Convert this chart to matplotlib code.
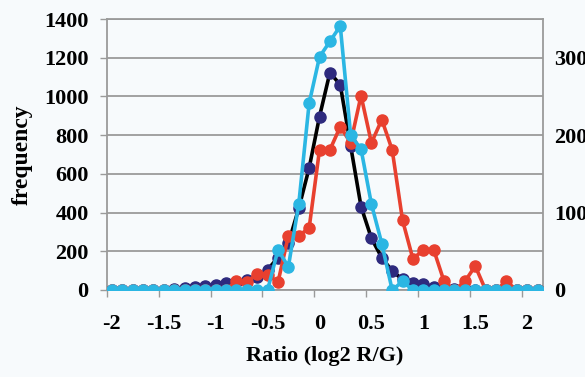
import numpy as np
import matplotlib
matplotlib.use("Agg")
import matplotlib.pyplot as plt

# Category positions (log2 R/G ratio), one every 0.1
ratio = [-2.0, -1.9, -1.8, -1.7, -1.6, -1.5, -1.4, -1.3, -1.2, -1.1,
         -1.0, -0.9, -0.8, -0.7, -0.6, -0.5, -0.4, -0.3, -0.2, -0.1,
         0.0, 0.1, 0.2, 0.3, 0.4, 0.5, 0.6, 0.7, 0.8, 0.9,
         1.0, 1.1, 1.2, 1.3, 1.4, 1.5, 1.6, 1.7, 1.8, 1.9,
         2.0, 2.1]

# Primary axis series (frequency)
navy_series = [0, 0, 0, 0, 0, 2, 5, 12, 17, 22,
               28, 34, 42, 50, 68, 105, 167, 241, 422, 630,
               896, 1123, 1060, 744, 431, 267, 167, 98, 55, 38,
               31, 17, 9, 5, 3, 2, 0, 0, 0, 0,
               0, 0]

# Secondary axis series
red_series = [0, 0, 0, 0, 0, 0, 0, 0, 0, 0,
              0, 0, 12, 10, 21, 20, 10, 70, 70, 80,
              181, 181, 211, 190, 251, 190, 220, 181, 90, 40,
              52, 52, 11, 0, 11, 31, 0, 0, 11, 0,
              0, 0]
cyan_series = [0, 0, 0, 0, 0, 0, 0, 0, 0, 0,
               0, 0, 0, 0, 0, 0, 52, 30, 111, 241,
               301, 321, 341, 200, 182, 111, 60, 0, 11, 0,
               0, 0, 0, 0, 0, 0, 0, 0, 0, 0,
               0, 0]

x_tick_values = [-2, -1.5, -1, -0.5, 0, 0.5, 1, 1.5, 2]
x_tick_labels = ["-2", "-1.5", "-1", "-0.5", "0", "0.5", "1", "1.5", "2"]
left_ticks = [0, 200, 400, 600, 800, 1000, 1200, 1400]
right_ticks = [0, 100, 200, 300]

BG = "#f7fafc"
GRID = "#9a9a9a"
NAVY = "#2e2a7e"
RED = "#e8402f"
CYAN = "#2bb6e3"
FONT = "Liberation Serif"

fig = plt.figure(figsize=(5.85, 3.77), dpi=100, facecolor=BG)
ax = fig.add_axes([0.1824, 0.2308, 0.9277 - 0.1824, 0.9496 - 0.2308])
ax.set_facecolor(BG)

ax.set_xlim(-2.05, 2.15)
ax.set_ylim(0, 1400)
ax.set_yticks(left_ticks)
ax.set_yticklabels([str(v) for v in left_ticks], fontfamily=FONT,
                   fontweight="bold", fontsize=16)
ax.yaxis.grid(True, color=GRID, linewidth=1.3)
ax.set_axisbelow(True)
ax.tick_params(axis="y", direction="out", length=5, width=1, color=GRID, pad=8)

ax.set_xticks(x_tick_values)
ax.set_xticklabels(x_tick_labels, fontfamily=FONT, fontweight="bold", fontsize=16)
ax.set_xticks([-2.05 + 0.5 * k for k in range(9)], minor=True)
ax.tick_params(axis="x", which="major", length=0, pad=17)
ax.tick_params(axis="x", which="minor", direction="out", length=5, width=1, color=GRID)

for s in ax.spines.values():
    s.set_color(GRID)
    s.set_linewidth(1.3)

ax.plot(ratio, navy_series, color="black", linewidth=2.6, marker="o",
        markersize=8, markerfacecolor=NAVY, markeredgecolor=NAVY, zorder=3)

ax2 = ax.twinx()
ax2.set_ylim(0, 350)
ax2.set_yticks(right_ticks)
ax2.set_yticklabels([str(v) for v in right_ticks], fontfamily=FONT,
                    fontweight="bold", fontsize=16)
ax2.tick_params(axis="y", length=0, pad=8)
for s in ax2.spines.values():
    s.set_visible(False)

ax2.plot(ratio, red_series, color=RED, linewidth=2.6, marker="o",
         markersize=8, markerfacecolor=RED, markeredgecolor=RED, zorder=3)
ax2.plot(ratio, cyan_series, color=CYAN, linewidth=2.6, marker="o",
         markersize=8, markerfacecolor=CYAN, markeredgecolor=CYAN, zorder=4)

ax.set_xlabel("Ratio (log2 R/G)", fontfamily=FONT, fontweight="bold",
              fontsize=16, labelpad=9)
ax.set_ylabel("frequency", fontfamily=FONT, fontweight="bold", fontsize=17,
              labelpad=8)

fig.savefig("out.png", dpi=100, facecolor=BG)
